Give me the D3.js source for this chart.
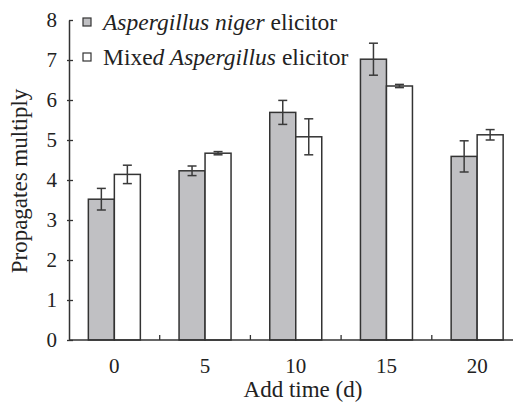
<!DOCTYPE html>
<html lang="en">
<head>
<meta charset="UTF-8">
<title>Propagates multiply vs add time</title>
<script src="https://d3js.org/d3.v7.min.js"></script>
<style>
    body { margin: 0; background: #fff; }
</style>
</head>
<body>
<svg id="chart"></svg>
<script>
    const width = 513;
    const height = 408;
    const serif = '"Liberation Serif"';

    // data
    const addTimes = ['0', '5', '10', '15', '20'];
    const nigerMean = [3.52, 4.23, 5.69, 7.02, 4.59];
    const nigerErr = [0.27, 0.12, 0.3, 0.4, 0.39];
    const mixedMean = [4.14, 4.67, 5.08, 6.35, 5.13];
    const mixedErr = [0.23, 0.04, 0.45, 0.04, 0.13];
    const yTicks = [0, 1, 2, 3, 4, 5, 6, 7, 8];

    const series = [
        { key: 'niger', mean: nigerMean, err: nigerErr, fill: '#c0c0c3' },
        { key: 'mixed', mean: mixedMean, err: mixedErr, fill: '#ffffff' }
    ];

    const svg = d3.select('#chart')
        .attr('width', width)
        .attr('height', height)
        .style('font-family', serif);

    const x = d3.scaleBand().domain(addTimes).range([69, 522.5]);
    const xSub = d3.scaleBand().domain(series.map(s => s.key))
        .range([0, 52]);
    const barOffset = (x.bandwidth() - 52) / 2;
    const y = d3.scaleLinear().domain([0, 8]).range([340, 20]);

    // bars
    series.forEach(s => {
        svg.append('g').selectAll('rect')
            .data(addTimes)
            .join('rect')
            .attr('x', (d) => x(d) + barOffset + xSub(s.key))
            .attr('y', (d, i) => y(s.mean[i]))
            .attr('width', xSub.bandwidth())
            .attr('height', (d, i) => y(0) - y(s.mean[i]))
            .attr('fill', s.fill)
            .attr('stroke', '#333')
            .attr('stroke-width', 1.5);
    });

    // error bars
    series.forEach(s => {
        const g = svg.append('g').attr('stroke', '#3a3a3a').attr('stroke-width', 1.5);
        addTimes.forEach((d, i) => {
            const cx = x(d) + barOffset + xSub(s.key) + xSub.bandwidth() / 2;
            const lo = y(s.mean[i] - s.err[i]);
            const hi = y(s.mean[i] + s.err[i]);
            g.append('line').attr('x1', cx).attr('x2', cx).attr('y1', lo).attr('y2', hi);
            g.append('line').attr('x1', cx - 4.5).attr('x2', cx + 4.5).attr('y1', lo).attr('y2', lo);
            g.append('line').attr('x1', cx - 4.5).attr('x2', cx + 4.5).attr('y1', hi).attr('y2', hi);
        });
    });

    // y axis
    const yAxis = svg.append('g')
        .attr('transform', 'translate(69,0)')
        .call(d3.axisLeft(y).tickValues(yTicks).tickSize(-4).tickSizeOuter(0).tickPadding(12));
    yAxis.attr('font-family', null);
    yAxis.select('.domain').attr('stroke', '#333').attr('stroke-width', 1.5);
    yAxis.selectAll('.tick line').attr('stroke', '#333').attr('stroke-width', 1.3)
        .attr('x1', d => d === 8 ? 0 : -2);
    yAxis.selectAll('.tick text')
        .style('font-family', serif)
        .style('font-size', '21px')
        .attr('fill', '#222');

    // x axis: labels at band centres, ticks between bands
    const xAxis = svg.append('g').attr('transform', 'translate(0,340)');
    xAxis.append('line').attr('x1', 69).attr('x2', 522.5).attr('y1', 0).attr('y2', 0)
        .attr('stroke', '#333').attr('stroke-width', 1.5);
    xAxis.selectAll('.sep')
        .data(addTimes.slice(1))
        .join('line')
        .attr('x1', d => x(d)).attr('x2', d => x(d))
        .attr('y1', 0).attr('y2', -5)
        .attr('stroke', '#333').attr('stroke-width', 1.3);
    xAxis.selectAll('text')
        .data(addTimes)
        .join('text')
        .attr('x', d => x(d) + x.bandwidth() / 2)
        .attr('y', 33)
        .attr('text-anchor', 'middle')
        .attr('fill', '#222')
        .style('font-family', serif)
        .style('font-size', '21px')
        .text(d => d);

    // axis titles
    svg.append('text')
        .attr('transform', 'translate(27,181) rotate(-90)')
        .attr('text-anchor', 'middle')
        .attr('fill', '#222')
        .style('font-family', serif)
        .style('font-size', '23px')
        .text('Propagates multiply');
    svg.append('text')
        .attr('x', 303).attr('y', 397)
        .attr('text-anchor', 'middle')
        .attr('fill', '#222')
        .style('font-family', serif)
        .style('font-size', '23px')
        .text('Add time (d)');

    // legend
    const legendRows = [
        { fill: '#c0c0c3', parts: [['Aspergillus niger', true], [' elicitor', false]] },
        { fill: '#ffffff', parts: [['Mixe', false], ['d Aspergillus', true], [' elicitor', false]] }
    ];
    legendRows.forEach((row, i) => {
        const base = 30 + i * 35;
        svg.append('rect')
            .attr('x', 83).attr('y', base - 12)
            .attr('width', 8).attr('height', 8)
            .attr('fill', row.fill)
            .attr('stroke', '#333').attr('stroke-width', 1.2);
        const t = svg.append('text')
            .attr('x', 103).attr('y', base)
            .attr('fill', '#222')
            .style('font-family', serif)
            .style('font-size', '23.5px');
        row.parts.forEach(p => {
            t.append('tspan')
                .style('font-style', p[1] ? 'italic' : 'normal')
                .text(p[0]);
        });
    });
</script>
</body>
</html>
